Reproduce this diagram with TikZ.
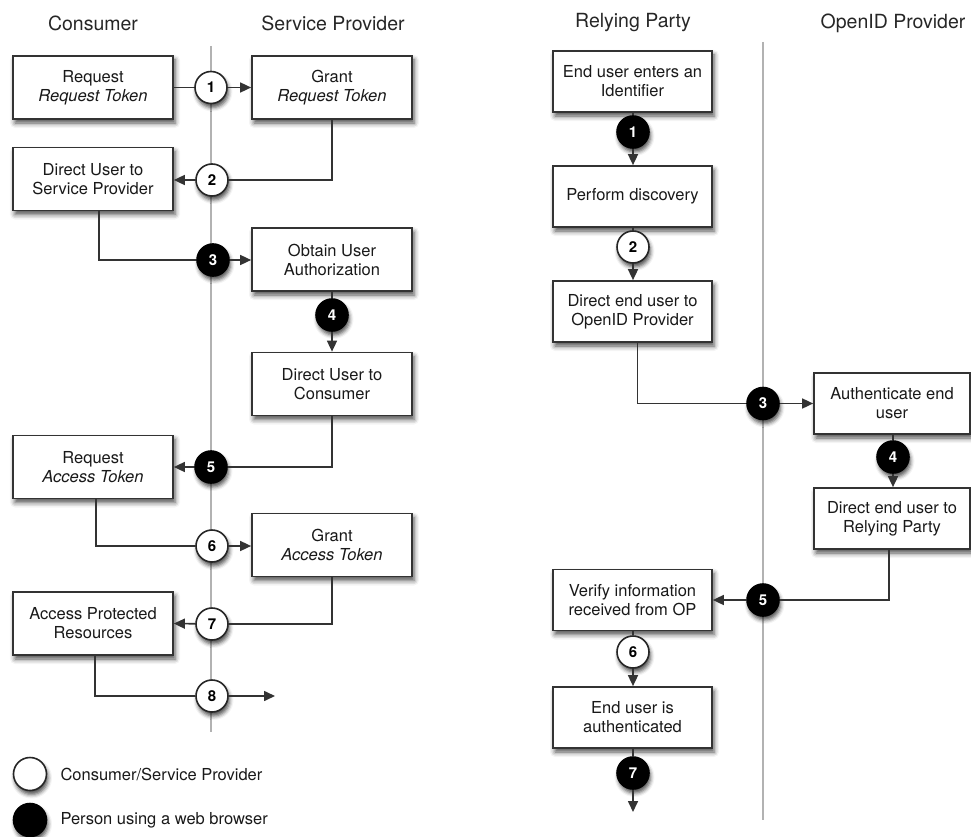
\documentclass[tikz,border=0pt]{standalone}
\usepackage{fontspec}
\setmainfont{TeX Gyre Heros}
\usetikzlibrary{arrows.meta,shadows.blur}

\tikzset{
  body/.style={font=\fontsize{16.5}{19}\selectfont, text=black!90},
  header/.style={font=\fontsize{19.5}{22}\selectfont, text=black!85},
  stepbox/.style={body, draw=black!80, line width=1.7pt, fill=white, align=center,
    minimum width=160pt, minimum height=63pt, inner sep=2pt,
    blur shadow={shadow xshift=2pt, shadow yshift=-4pt, shadow blur radius=5pt, shadow opacity=70}},
  rbox/.style={stepbox, minimum width=159pt, minimum height=61pt},
  numw/.style={circle, draw=black!85, line width=1.6pt, fill=white, minimum size=32pt, inner sep=0pt,
    font=\fontsize{15}{15}\bfseries,
    blur shadow={shadow xshift=1.5pt, shadow yshift=-4pt, shadow blur radius=4pt, shadow opacity=70}},
  numb/.style={numw, fill=black, draw=black, text=white},
  lifeline/.style={draw=black!30, line width=1.8pt},
  link/.style={draw=black!80, line width=1.6pt},
  flow/.style={link, -{Triangle[length=11pt,width=10pt]}},
}

\begin{document}
\begin{tikzpicture}[x=1pt,y=-1pt]
\useasboundingbox (0,0) rectangle (971,837);

% column headings
\node[header] (hcons) at (93,23) {Consumer};
\node[header] (hsp) at (333,23) {Service Provider};
\node[header] (hrp) at (633,23) {Relying Party};
\node[header] (hop) at (893,23) {OpenID Provider};

% lifelines
\coordinate (lt) at (211,46);
\coordinate (lb) at (211,732);
\coordinate (rt) at (763,42);
\coordinate (rb) at (763,820);
\draw[lifeline] (lt) -- (lb);
\draw[lifeline] (rt) -- (rb);

% ---- OAuth flow ----
\node[stepbox] (rrt) at (93,87.5) {Request\\\textit{Request Token}};
\node[stepbox] (grt) at (332,87.5) {Grant\\\textit{Request Token}};
\node[stepbox] (dus) at (93,179) {Direct User to\\Service Provider};
\node[stepbox] (oua) at (332,259.5) {Obtain User\\Authorization};
\node[stepbox] (duc) at (332,384) {Direct User to\\Consumer};
\node[stepbox] (rat) at (93,467) {Request\\\textit{Access Token}};
\node[stepbox] (gat) at (332,545) {Grant\\\textit{Access Token}};
\node[stepbox] (apr) at (93,623.5) {Access Protected\\Resources};

\node[numw] (o1) at (211,87.5) {1};
\node[numw] (o2) at (212,180) {2};
\node[numb] (o3) at (213,260) {3};
\node[numb] (o4) at (332,315) {4};
\node[numb] (o5) at (211,467) {5};
\node[numw] (o6) at (212,546) {6};
\node[numw] (o7) at (212,624) {7};
\node[numw] (o8) at (212,696) {8};
\coordinate (o8end) at (275,696);

\draw[link] (rrt.east) -- (o1);
\draw[flow] (o1) -- (grt.west);
\draw[link] (grt.south) |- (o2);
\draw[flow] (o2) -- (o2 -| dus.east);
\draw[link] ([xshift=6pt]dus.south) |- (o3);
\draw[flow] (o3) -- (o3 -| oua.west);
\draw[link] (oua.south) -- (o4);
\draw[flow] (o4) -- (duc.north);
\draw[link] (duc.south) |- (o5);
\draw[flow] (o5) -- (rat.east);
\draw[link] ([xshift=3pt]rat.south) |- (o6);
\draw[flow] (o6) -- (o6 -| gat.west);
\draw[link] (gat.south) |- (o7);
\draw[flow] (o7) -- (apr.east);
\draw[link] ([xshift=2pt]apr.south) |- (o8);
\draw[flow] (o8) -- (o8end);

% ---- OpenID flow ----
\node[rbox] (eui) at (632.5,81.5) {End user enters an\\Identifier};
\node[rbox] (pfd) at (632.5,196.5) {Perform discovery};
\node[rbox] (deu) at (632.5,311.5) {Direct end user to\\OpenID Provider};
\node[rbox, minimum width=156pt] (aeu) at (892,403.5) {Authenticate end\\user};
\node[rbox, minimum width=156pt] (der) at (892,518.5) {Direct end user to\\Relying Party};
\node[rbox] (vfy) at (632.5,600) {Verify information\\received from OP};
\node[rbox] (eua) at (632.5,717.5) {End user is\\authenticated};

\node[numb] (r1) at (633,132) {1};
\node[numw] (r2) at (633,247) {2};
\node[numb] (r3) at (763,403.5) {3};
\node[numb] (r4) at (893,457) {4};
\node[numb] (r5) at (763,600) {5};
\node[numw] (r6) at (633,652) {6};
\node[numb] (r7) at (633,773) {7};
\coordinate (r7end) at (633,812);

\draw[link] (eui.south -| r1) -- (r1);
\draw[flow] (r1) -- (r1 |- pfd.north);
\draw[link] (pfd.south -| r2) -- (r2);
\draw[flow] (r2) -- (r2 |- deu.north);
\draw[link] ([xshift=5pt]deu.south) |- (r3);
\draw[flow] (r3) -- (aeu.west);
\draw[link] (aeu.south -| r4) -- (r4);
\draw[flow] (r4) -- (r4 |- der.north);
\draw[link] ([xshift=-3pt]der.south) |- (r5);
\draw[flow] (r5) -- (vfy.east);
\draw[link] (vfy.south -| r6) -- (r6);
\draw[flow] (r6) -- (r6 |- eua.north);
\draw[link] (eua.south -| r7) -- (r7);
\draw[flow] (r7) -- (r7end);

% legend
\node[numw, minimum size=33pt] (kw) at (30,774) {};
\node[numb, minimum size=33pt] (kb) at (30,820) {};
\node[body, anchor=west] (kwt) at (57,774) {Consumer/Service Provider};
\node[body, anchor=west] (kbt) at (57,820) {Person using a web browser};
\end{tikzpicture}
\end{document}
